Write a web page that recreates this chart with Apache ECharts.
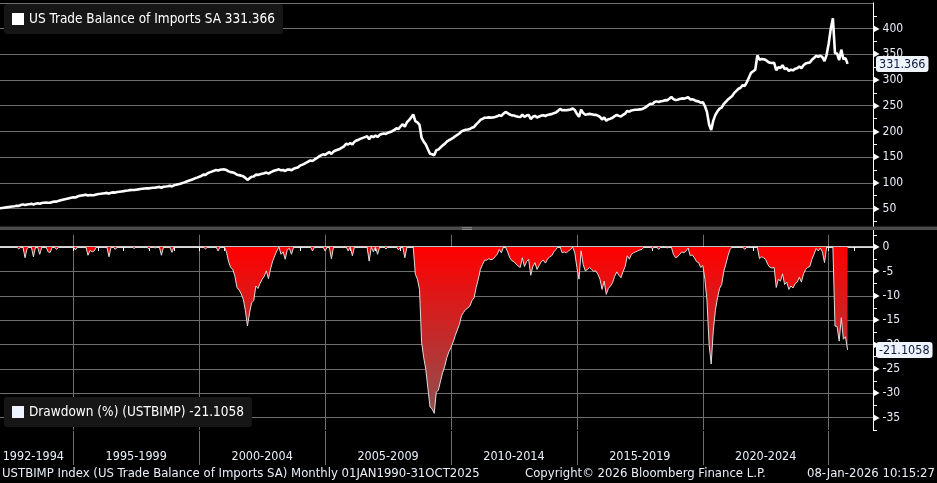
<!DOCTYPE html>
<html>
<head>
<meta charset="utf-8">
<title>US Trade Balance of Imports SA</title>
<script src="https://cdn.jsdelivr.net/npm/echarts@6.0.0/dist/echarts.min.js"></script>
<style>
  * { margin: 0; padding: 0; }
  html, body { background: #000; }
  #main { width: 937px; height: 483px; }
</style>
</head>
<body>
<div id="main"></div>
<script>
// monthly, Jan 1992 .. Oct 2025
var firstYear = 1992;

var imports = [
  50.2, 50.6, 51.2, 51.8, 52.3, 52.9, 53.5, 54.1, 54.7, 55.4, 55.2, 57.0,        // 1992
  58.2, 56.9, 58.0, 58.6, 59.2, 58.0, 59.5, 60.3, 59.4, 60.9, 61.5, 62.0,        // 1993
  61.4, 61.3, 62.6, 63.8, 63.5, 65.0, 66.0, 67.0, 68.0, 69.0, 70.0, 71.0,        // 1994
  72.0, 71.6, 73.5, 74.8, 75.6, 76.2, 76.8, 75.5, 76.3, 76.0, 76.2, 77.4,        // 1995
  78.3, 78.8, 79.4, 80.0, 80.6, 79.0, 80.9, 81.5, 81.1, 82.2, 82.8, 83.4,        // 1996
  84.0, 84.8, 85.3, 85.9, 86.3, 86.0, 86.8, 87.4, 88.0, 88.6, 89.2, 89.7,        // 1997
  89.3, 90.1, 90.6, 90.4, 91.6, 92.2, 90.6, 92.4, 92.9, 93.5, 94.2, 93.2,        // 1998
  95.3, 96.2, 97.4, 98.4, 99.6, 101.0, 102.6, 104.2, 105.6, 107.2, 108.8, 110.2, // 1999
  111.8, 113.5, 116.0, 115.5, 118.6, 120.4, 121.9, 123.4, 125.0, 124.0, 125.4, 126.0, // 2000
  126.2, 124.9, 122.4, 120.9, 120.4, 118.6, 115.7, 115.1, 114.1, 112.7, 109.8, 105.8, // 2001
  109.2, 111.8, 112.3, 116.1, 115.5, 116.7, 117.9, 118.6, 120.0, 118.0, 120.5, 122.5, // 2002
  123.9, 125.2, 126.3, 124.4, 125.0, 123.1, 125.7, 125.9, 124.4, 127.5, 128.8, 130.0, // 2003
  133.5, 135.0, 137.0, 139.2, 141.5, 143.5, 142.4, 145.5, 148.0, 151.0, 153.5, 155.5, // 2004
  154.3, 157.5, 160.0, 156.2, 161.0, 163.0, 164.5, 166.0, 168.5, 171.0, 176.0, 174.6, // 2005
  177.5, 174.8, 180.0, 182.5, 184.0, 186.0, 187.5, 189.0, 190.5, 185.0, 191.0, 189.0, // 2006
  192.0, 189.2, 193.5, 195.0, 196.0, 195.2, 197.5, 199.0, 200.5, 203.0, 206.0, 204.8, // 2007
  210.0, 214.0, 209.3, 218.0, 222.0, 227.0, 233.0, 220.0, 217.6, 212.7, 187.3, 180.0, // 2008
  174.5, 165.4, 156.6, 155.6, 153.6, 163.6, 164.7, 168.9, 172.9, 175.9, 180.1, 182.9, // 2009
  185.0, 187.6, 190.6, 193.4, 196.0, 200.1, 201.8, 203.2, 203.9, 204.8, 207.4, 208.8, // 2010
  213.7, 217.6, 222.3, 224.6, 226.7, 226.7, 227.4, 226.9, 227.2, 228.3, 229.5, 231.8, // 2011
  230.2, 234.5, 238.0, 235.6, 232.8, 231.3, 230.9, 229.7, 228.7, 228.0, 232.8, 228.5, // 2012
  230.9, 232.1, 224.2, 228.5, 230.4, 227.1, 229.0, 230.9, 231.6, 230.1, 232.1, 233.2, // 2013
  233.7, 235.6, 236.8, 240.0, 244.0, 241.1, 241.6, 241.1, 242.0, 242.8, 244.5, 241.6, // 2014
  234.2, 228.4, 242.5, 235.7, 232.5, 233.3, 234.2, 233.3, 232.3, 232.5, 230.8, 228.4, // 2015
  223.2, 227.4, 220.8, 223.7, 224.9, 226.7, 229.8, 232.0, 230.3, 229.1, 232.3, 234.7, // 2016
  240.1, 238.4, 240.8, 241.6, 242.1, 242.5, 243.0, 243.3, 245.5, 247.6, 251.0, 254.0, // 2017
  253.2, 257.3, 258.5, 257.2, 258.8, 259.2, 261.0, 260.5, 263.5, 267.0, 263.0, 261.1, // 2018
  261.7, 263.0, 264.3, 263.8, 264.9, 266.5, 262.2, 262.7, 261.1, 259.0, 258.5, 255.8, // 2019
  256.9, 249.4, 237.6, 213.6, 202.9, 221.1, 232.3, 239.2, 244.3, 246.4, 253.7, 257.7, // 2020
  262.2, 265.7, 269.0, 275.0, 279.0, 283.0, 285.0, 290.0, 288.5, 296.0, 305.0, 314.0, // 2021
  317.0, 320.0, 348.0, 339.5, 341.0, 340.5, 339.0, 335.5, 333.5, 333.0, 333.5, 319.0, // 2022
  325.0, 323.6, 328.9, 321.2, 322.9, 317.7, 320.2, 318.8, 321.9, 322.9, 326.4, 322.9, // 2023
  328.9, 332.0, 333.4, 334.1, 339.3, 342.8, 347.0, 345.2, 347.3, 344.5, 336.9, 349.0, // 2024
  371.0, 400.0, 420.0, 352.0, 351.5, 339.0, 359.1, 340.6, 342.7, 331.366            // 2025
];

var drawdown = [
  0, 0, 0, 0, 0, 0, 0, 0, 0, 0, -0.4, 0,                                  // 1992
  0, -2.2, -0.3, 0, 0, -2.0, 0, 0, -1.5, 0, 0, 0,                         // 1993
  -1.0, -1.1, 0, 0, -0.5, 0, 0, 0, 0, 0, 0, 0,                            // 1994
  0, -0.6, 0, 0, 0, 0, 0, -1.7, -0.7, -1.0, -0.8, 0,                      // 1995
  0, 0, 0, 0, 0, -2.0, 0, 0, -0.5, 0, 0, 0,                               // 1996
  0, 0, 0, 0, 0, -0.3, 0, 0, 0, 0, 0, 0,                                  // 1997
  -0.4, 0, 0, -0.2, 0, 0, -1.7, 0, 0, 0, 0, -1.1,                         // 1998
  0, 0, 0, 0, 0, 0, 0, 0, 0, 0, 0, 0,                                     // 1999
  0, 0, 0, -0.4, 0, 0, 0, 0, 0, -0.8, 0, 0,                               // 2000
  0, -1.0, -3.0, -4.2, -4.6, -6.0, -8.3, -8.8, -9.6, -10.7, -13.0, -16.2, // 2001
  -13.5, -11.4, -11.0, -8.0, -8.5, -7.5, -6.6, -6.0, -4.9, -6.5, -4.5, -2.9, // 2002
  -1.8, -0.8, 0, -1.5, -1.0, -2.5, -0.5, -0.3, -1.5, 0, 0, 0,             // 2003
  0, 0, 0, 0, 0, 0, -0.8, 0, 0, 0, 0, 0,                                  // 2004
  -0.8, 0, 0, -2.4, 0, 0, 0, 0, 0, 0, 0, -0.8,                            // 2005
  0, -1.8, 0, 0, 0, 0, 0, 0, 0, -2.9, 0, -1.0,                            // 2006
  0, -1.5, 0, 0, 0, -0.4, 0, 0, 0, 0, 0, -0.6,                            // 2007
  0, 0, -2.2, 0, 0, 0, 0, -5.6, -6.6, -8.7, -19.6, -22.7,                 // 2008
  -25.1, -29.0, -32.8, -33.2, -34.1, -29.8, -29.3, -27.5, -25.8, -24.5, -22.7, -21.5, // 2009
  -20.6, -19.5, -18.2, -17.0, -15.9, -14.1, -13.4, -12.8, -12.5, -12.1, -11.0, -10.4, // 2010
  -8.3, -6.6, -4.6, -3.6, -2.7, -2.7, -2.4, -2.6, -2.5, -2.0, -1.5, -0.5, // 2011
  -1.2, 0, 0, -1.0, -2.2, -2.8, -3.0, -3.5, -3.9, -4.2, -2.2, -4.0,       // 2012
  -3.0, -2.5, -5.8, -4.0, -3.2, -4.6, -3.8, -3.0, -2.7, -3.3, -2.5, -2.0, // 2013
  -1.8, -1.0, -0.5, 0, 0, -1.2, -1.0, -1.2, -0.8, -0.5, 0, -1.2,          // 2014
  -4.2, -6.6, -0.8, -3.6, -4.9, -4.6, -4.2, -4.6, -5.0, -4.9, -5.6, -6.6, // 2015
  -8.7, -7.0, -9.7, -8.5, -8.0, -7.3, -6.0, -5.1, -5.8, -6.3, -5.0, -4.0, // 2016
  -1.8, -2.5, -1.5, -1.2, -1.0, -0.8, -0.6, -0.5, 0, 0, 0, 0,             // 2017
  -0.3, 0, 0, -0.5, 0, 0, 0, -0.2, 0, 0, -1.5, -2.2,                      // 2018
  -2.0, -1.5, -1.0, -1.2, -0.8, -0.2, -1.8, -1.6, -2.2, -3.0, -3.2, -4.2, // 2019
  -3.8, -6.6, -11.0, -20.0, -24.0, -17.2, -13.0, -10.4, -8.5, -7.7, -5.0, -3.5, // 2020
  -1.8, -0.5, 0, 0, 0, 0, 0, 0, -0.5, 0, 0, 0,                            // 2021
  0, 0, 0, -2.4, -2.0, -2.2, -2.6, -3.6, -4.2, -4.3, -4.2, -8.3,          // 2022
  -6.6, -7.0, -5.5, -7.7, -7.2, -8.7, -8.0, -8.4, -7.5, -7.2, -6.2, -7.2, // 2023
  -5.5, -4.6, -4.2, -4.0, -2.5, -1.5, -0.3, -0.8, -0.2, -1.0, -3.2, 0,    // 2024
  0, 0, 0, -16.2, -16.3, -19.3, -14.5, -18.9, -18.4, -21.1058             // 2025
];

var periodLabels = ['1992-1994', '1995-1999', '2000-2004', '2005-2009',
                    '2010-2014', '2015-2019', '2020-2024', ''];

var impName = 'US Trade Balance of Imports SA';
var ddName = 'Drawdown (%) (USTBIMP)';
var footLeft = 'USTBIMP Index (US Trade Balance of Imports SA) Monthly 01JAN1990-31OCT2025';
var footMid = 'Copyright\u00A9 2026 Bloomberg Finance L.P.';
var footRight = '08-Jan-2026 10:15:27';

var FONT = "'DejaVu Sans Condensed', 'DejaVu Sans', sans-serif";
var TXT = '#e9eef8';
var GRIDC = '#6e6e6e';
var CLEAR = 'rgba(0,0,0,0)';

var lastImp = imports[imports.length - 1];
var lastDd = drawdown[drawdown.length - 1];

function toPoints(arr) {
  return arr.map(function (v, i) { return [firstYear + i / 12, v]; });
}

// 1990 sits off the left edge so that 5-year boundaries fall on the grid lines
var pxYear = 25.18;
var gridLeft = -52.6;
var axisX = 873;
var xMin = 1990;
var xMax = xMin + (axisX - gridLeft) / pxYear;

var topColors = [];
for (var v = 0; v <= 450; v += 50) topColors.push(v === 0 ? CLEAR : GRIDC);
var ddColors = [];
for (var k = 0; k <= 16; k++) ddColors.push(((-37.5 + k * 2.5) % 5 === 0) ? GRIDC : CLEAR);

var tickLabel = {
  margin: 1,
  color: TXT,
  fontSize: 12,
  fontFamily: FONT,
  rich: { t: { fontSize: 8, color: '#fff', padding: [0, 3, 0, 0], fontFamily: FONT } }
};

var flagLabel = {
  show: true,
  margin: 3,
  backgroundColor: '#eef3fc',
  color: '#0d1a3d',
  fontSize: 12.5,
  fontFamily: FONT,
  padding: [2, 3, 1, 3]
};

var chart = echarts.init(document.getElementById('main'));
chart.setOption({
  backgroundColor: '#000',
  animation: false,
  grid: [
    { left: gridLeft, right: 937 - axisX, top: 2.9, height: 231.4, outerBoundsMode: 'none', containLabel: false },
    { left: gridLeft, right: 937 - axisX, top: 234.8, height: 195.1, outerBoundsMode: 'none', containLabel: false },
    { left: gridLeft, right: 937 - (gridLeft + 40 * pxYear), top: 430, height: 1, outerBoundsMode: 'none', containLabel: false }
  ],
  legend: [
    {
      left: 4, top: 4, padding: [8, 8, 8, 8], backgroundColor: '#161616', borderRadius: 3,
      itemWidth: 12, itemHeight: 12, icon: 'rect', selectedMode: false,
      data: [{ name: impName, itemStyle: { color: '#ffffff' } }],
      textStyle: { color: '#ffffff', fontSize: 13.5, fontFamily: FONT },
      formatter: function (n) { return n + ' ' + lastImp; }
    },
    {
      left: 4, top: 397, padding: [8, 8, 8, 8], backgroundColor: '#161616', borderRadius: 3,
      itemWidth: 12, itemHeight: 12, icon: 'rect', selectedMode: false,
      data: [{ name: ddName, itemStyle: { color: '#eef4ff' } }],
      textStyle: { color: '#ffffff', fontSize: 13.5, fontFamily: FONT },
      formatter: function (n) { return n + ' ' + lastDd; }
    }
  ],
  xAxis: [
    { gridIndex: 0, type: 'value', min: xMin, max: xMax, show: false },
    {
      gridIndex: 1, type: 'value', min: xMin, max: xMax, interval: 1,
      axisLine: { show: true, lineStyle: { color: '#ffffff', width: 1.5 } },
      axisTick: { show: true, length: 4, lineStyle: { color: '#ffffff' } },
      axisLabel: { show: false },
      splitLine: { show: true, lineStyle: { color: [GRIDC, CLEAR, CLEAR, CLEAR, CLEAR], width: 1 } }
    },
    {
      gridIndex: 2, type: 'category', boundaryGap: true,
      data: periodLabels.map(function (p, i) {
        return i === 0 ? { value: p, textStyle: { padding: [0, 0, 0, 46] } } : p;
      }),
      axisLine: { show: false },
      axisTick: { show: true, length: 34, lineStyle: { color: GRIDC } },
      axisLabel: { interval: 0, margin: 19, color: TXT, fontSize: 12.5, fontFamily: FONT },
      splitLine: { show: false }
    }
  ],
  yAxis: [
    {
      gridIndex: 0, type: 'value', position: 'right', min: 0, max: 450, interval: 50,
      axisLine: { show: true, lineStyle: { color: '#ffffff' } },
      axisTick: { show: false },
      minorTick: { show: true, splitNumber: 2, length: 4, lineStyle: { color: '#ffffff' } },
      minorSplitLine: { show: false },
      axisLabel: Object.assign({}, tickLabel, {
        formatter: function (v) { return (v > 0 && v < 450) ? '{t|\u25B6}' + v : ''; }
      }),
      splitLine: { show: true, lineStyle: { color: topColors, width: 1 } },
      axisPointer: {
        show: true, type: 'line', value: lastImp, status: 'show', snap: false,
        triggerTooltip: false, lineStyle: { color: CLEAR, width: 0 },
        label: Object.assign({}, flagLabel, { formatter: function () { return String(lastImp); } })
      }
    },
    {
      gridIndex: 1, type: 'value', position: 'right', min: -37.5, max: 2.5, interval: 2.5,
      axisLine: { show: true, lineStyle: { color: '#ffffff' } },
      axisTick: { show: true, length: 4, lineStyle: { color: '#ffffff' } },
      axisLabel: Object.assign({}, tickLabel, {
        formatter: function (v) { return (v <= 0 && v % 5 === 0) ? '{t|\u25B6}' + v : ''; }
      }),
      splitLine: { show: true, lineStyle: { color: ddColors, width: 1 } },
      axisPointer: {
        show: true, type: 'line', value: lastDd, status: 'show', snap: false,
        triggerTooltip: false, lineStyle: { color: CLEAR, width: 0 },
        label: Object.assign({}, flagLabel, { formatter: function () { return String(lastDd); } })
      }
    },
    { gridIndex: 2, type: 'value', show: false }
  ],
  series: [
    {
      name: impName, type: 'line', xAxisIndex: 0, yAxisIndex: 0,
      data: toPoints(imports), showSymbol: false, symbol: 'none',
      lineStyle: { color: '#ffffff', width: 2.6 }, itemStyle: { color: '#ffffff' }
    },
    {
      name: ddName, type: 'line', xAxisIndex: 1, yAxisIndex: 1,
      data: toPoints(drawdown), showSymbol: false, symbol: 'none',
      lineStyle: { color: '#dcdcdc', width: 1 }, itemStyle: { color: '#eef4ff' },
      areaStyle: {
        opacity: 1,
        color: new echarts.graphic.LinearGradient(0, 247, 0, 415, [
          { offset: 0, color: '#ff0000' },
          { offset: 1, color: '#8e5050' }
        ], true)
      }
    }
  ],
  graphic: [
    { type: 'rect', z: 100, shape: { x: 0, y: 226.5, width: 937, height: 3.5 }, style: { fill: '#4b4b4b' } },
    { type: 'rect', z: 101, shape: { x: 462, y: 227.3, width: 10, height: 0.8 }, style: { fill: '#9a9a9a' } },
    { type: 'rect', z: 101, shape: { x: 462, y: 229.0, width: 10, height: 0.8 }, style: { fill: '#9a9a9a' } },
    { type: 'text', left: 2, top: 467, style: { text: footLeft, fill: TXT, font: '13px ' + FONT } },
    { type: 'text', left: 525, top: 467, style: { text: footMid, fill: TXT, font: '13px ' + FONT } },
    { type: 'text', right: 2, top: 467, style: { text: footRight, fill: TXT, font: '13px ' + FONT } }
  ]
});
</script>
</body>
</html>
